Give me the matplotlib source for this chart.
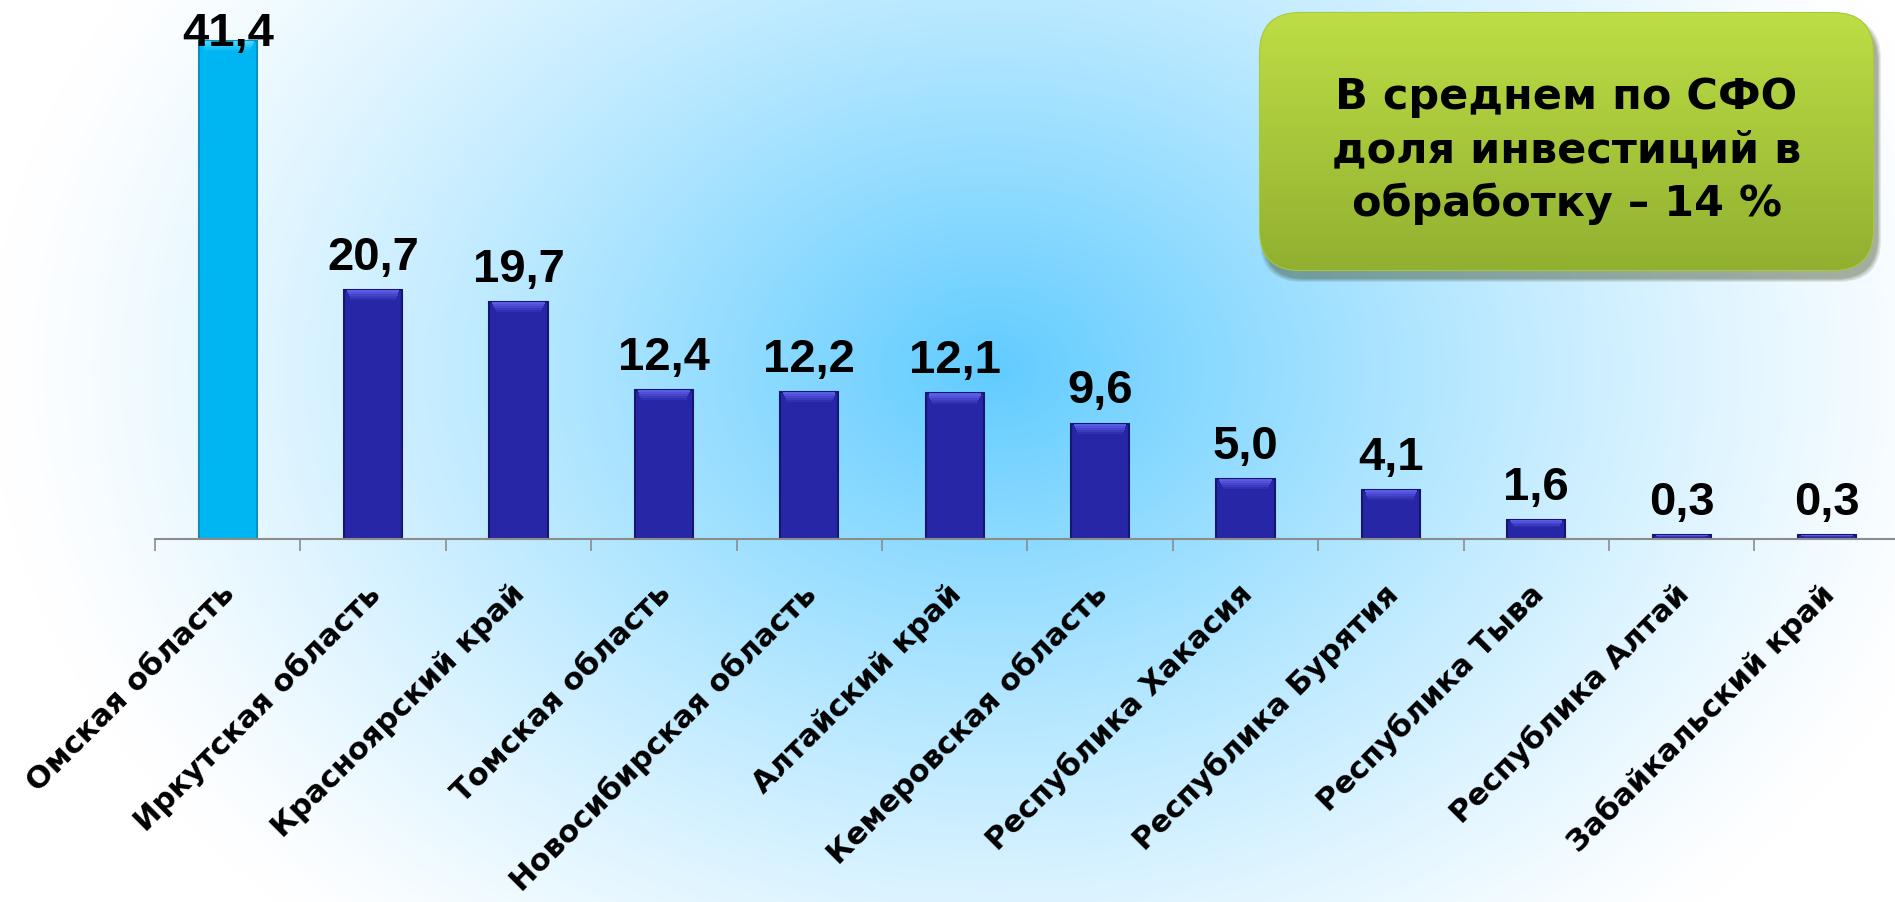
import numpy as np
import matplotlib
matplotlib.use("Agg")
import matplotlib.pyplot as plt
from matplotlib.patches import FancyBboxPatch
from matplotlib.transforms import ScaledTranslation

# Data
regions = ["Омская область", "Иркутская область", "Красноярский край",
           "Томская область", "Новосибирская область", "Алтайский край",
           "Кемеровская область", "Республика Хакасия", "Республика Бурятия",
           "Республика Тыва", "Республика Алтай", "Забайкальский край"]
shares = [41.4, 20.7, 19.7, 12.4, 12.2, 12.1, 9.6, 5.0, 4.1, 1.6, 0.3, 0.3]
value_labels = ["41,4", "20,7", "19,7", "12,4", "12,2", "12,1",
                "9,6", "5,0", "4,1", "1,6", "0,3", "0,3"]
note = "В среднем по СФО\nдоля инвестиций в\nобработку – 14 %"

W, H = 1895, 903
fig = plt.figure(figsize=(W / 100, H / 100), dpi=100)

# background: soft radial blue glow
bg = fig.add_axes([0, 0, 1, 1], zorder=0)
yy, xx = np.mgrid[0:H, 0:W]
d = np.sqrt(((xx - 990) / 1000.0) ** 2 + ((yy - 370) / 760.0) ** 2)
t = np.clip(1 - d, 0, 1) ** 1.25
center = np.array([0.38, 0.80, 1.0])
img = 1 - t[..., None] * (1 - center)
bg.imshow(img, extent=(0, W, H, 0), aspect="auto", interpolation="bilinear")
bg.set_xlim(0, W)
bg.set_ylim(H, 0)
bg.axis("off")

# main bar chart
ax = fig.add_axes([155 / W, (H - 540) / H, 1 - 155 / W, 540 / H], zorder=1)
ax.patch.set_alpha(0)
x = np.arange(len(regions))
bar_w = 0.40
colors = ["#00B6F2"] + ["#2626A6"] * (len(regions) - 1)
edges = ["#0A8FC0"] + ["#16166E"] * (len(regions) - 1)
tops = ["#45D6FF"] + ["#5B5BE6"] * (len(regions) - 1)
vals = np.array(shares)
ax.bar(x, vals, width=bar_w, color=colors, edgecolor=edges, linewidth=1.5, zorder=2)

# top bevel: a few stacked slices fading into the bar colour
bevel = np.minimum(0.85, vals * 0.4)
n_sl = 5
for k in range(n_sl):
    h = bevel / n_sl
    ax.bar(x, h, bottom=vals - (k + 1) * h, width=bar_w * (0.9 - 0.03 * k),
           color=tops, alpha=1 - k / n_sl, linewidth=0, zorder=3)

ymax = 44.9
ax.set_ylim(0, ymax)
ax.set_xlim(-0.5, -0.5 + (W - 155) / 145.4)

for xi, v, lab in zip(x, vals, value_labels):
    ypos = min(v + 1.75, ymax - 3.8)
    ax.text(xi, ypos, lab, ha="center", va="baseline", fontsize=34,
            fontweight="bold", family="Liberation Sans", color="black", zorder=4)

for side in ["left", "right", "top"]:
    ax.spines[side].set_visible(False)
ax.spines["bottom"].set_color("#8C8C8C")
ax.spines["bottom"].set_linewidth(1.5)
ax.set_yticks([])
ax.set_xticks(x - 0.5, minor=True)
ax.tick_params(axis="x", which="minor", length=8.5, width=1.2, color="#8C8C8C")
ax.set_xticks(x)
ax.set_xticklabels(regions, rotation=45, ha="right", va="top",
                   rotation_mode="anchor", fontsize=22, fontweight="bold",
                   family="DejaVu Sans")
ax.tick_params(axis="x", which="major", length=0, pad=28)
shift = ScaledTranslation(-8 / 100, 0, fig.dpi_scale_trans)
for lbl in ax.get_xticklabels():
    lbl.set_transform(lbl.get_transform() + shift)

# green note box, in pixel coordinates
ov = fig.add_axes([0, 0, 1, 1], zorder=3)
ov.set_xlim(0, W)
ov.set_ylim(H, 0)
ov.axis("off")
bx0, by0, bx1, by1 = 1260, 14, 1873, 271
for k, a in enumerate([0.10, 0.10, 0.12, 0.14]):
    grow = 8 - 2 * k
    sh = FancyBboxPatch((bx0 + 4 - grow / 2, by0 + 8 - grow / 2), bx1 - bx0 + grow,
                        by1 - by0 + grow, boxstyle="round,pad=0,rounding_size=42",
                        facecolor="#2E3A10", edgecolor="none", alpha=a)
    ov.add_patch(sh)
box = FancyBboxPatch((bx0, by0), bx1 - bx0, by1 - by0,
                     boxstyle="round,pad=0,rounding_size=40",
                     facecolor="none", edgecolor="#A8C83A", linewidth=1.5)
ov.add_patch(box)
grad = np.linspace(0, 1, 256)[:, None]
c_top = np.array([0.74, 0.87, 0.27])
c_bot = np.array([0.57, 0.69, 0.19])
gimg = c_top + grad[..., None] * (c_bot - c_top)
gimg = np.repeat(gimg, 2, axis=1)
im = ov.imshow(gimg, extent=(bx0, bx1, by1, by0), aspect="auto", zorder=2)
im.set_clip_path(box)
ov.text((bx0 + bx1) / 2, (by0 + by1) / 2 + 8, note, ha="center", va="center",
        fontsize=31, fontweight="bold", family="DejaVu Sans", linespacing=1.33,
        color="black", zorder=3)

fig.savefig("out.png", dpi=100)
